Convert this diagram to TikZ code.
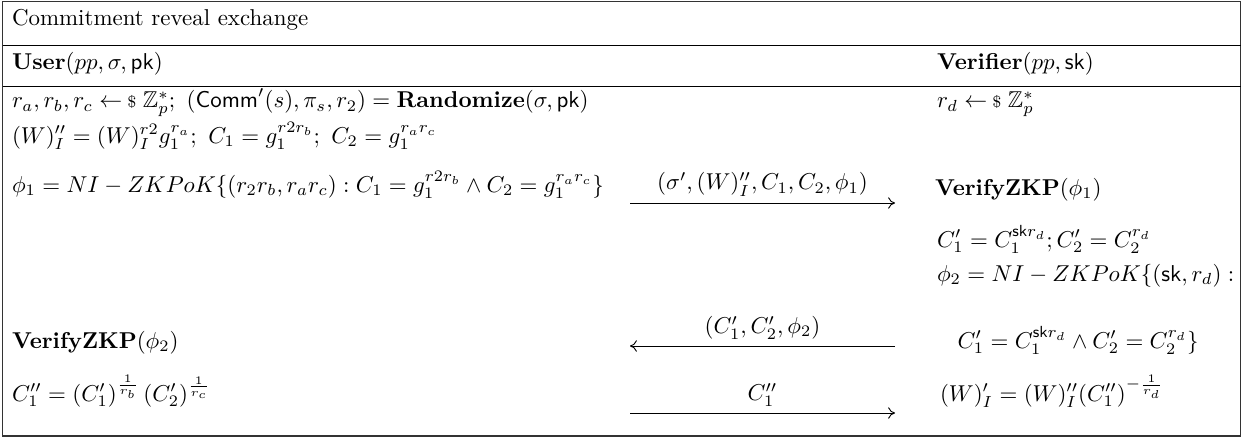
\documentclass[tikz,border=0pt]{standalone}
\usepackage{amsmath,amssymb}
\usetikzlibrary{arrows.meta, positioning}
\newcommand{\smpl}{\mathrel{\leftarrow\mkern-1mu{\scriptstyle\$}}}

\begin{document}
\begin{tikzpicture}[x=0.436pt, y=-0.436pt,
  every node/.style={inner sep=0pt, outer sep=0pt},
  cell/.style={anchor=base west},
  rule/.style={line width=0.4pt},
  frame/.style={line width=0.65pt, draw=black!80},
  msg/.style={-{To[length=3pt,width=5pt]}, line width=0.4pt},
  msglabel/.style={midway, above=3pt}]
  \useasboundingbox (0,0) rectangle (1244,439);
  \draw[frame] (2.5,1.5) rectangle (1240.5,436);

  % title and party headers
  \node[cell] (title) at (12,26) {Commitment reveal exchange};
  \draw[rule] (2.5,45) -- (1240.5,45);
  \node[cell] (user) at (12,70) {$\textbf{User}(pp,\sigma,\mathsf{pk})$};
  \node[cell] (verifier) at (937,70) {$\textbf{Verifier}(pp,\mathsf{sk})$};
  \draw[rule] (2.5,86) -- (1240.5,86);

  % user side
  \node[cell] (u1) at (12,108) {$r_a, r_b, r_c \smpl \mathbb{Z}_p^*;\ (\mathsf{Comm}'(s), \pi_s, r_2) = \textbf{Randomize}(\sigma,\mathsf{pk})$};
  \node[cell] (u2) at (12,143) {$(W)''_I = (W)_I^{r2} g_1^{r_a};\ C_1 = g_1^{r2r_b};\ C_2 = g_1^{r_ar_c}$};
  \node[cell] (u3) at (12,192) {$\phi_1 = NI - ZKPoK\{(r_2r_b, r_ar_c) : C_1 = g_1^{r2r_b} \wedge C_2 = g_1^{r_ar_c}\}$};
  \node[cell] (u4) at (12,348) {$\textbf{VerifyZKP}(\phi_2)$};
  \node[cell] (u5) at (12,401) {$C_1'' = (C_1')^{\frac{1}{r_b}}\,(C_2')^{\frac{1}{r_c}}$};

  % verifier side
  \node[cell] (v1) at (937,108) {$r_d \smpl \mathbb{Z}_p^*$};
  \node[cell] (v2) at (935,195) {$\textbf{VerifyZKP}(\phi_1)$};
  \node[cell] (v3) at (937,247) {$C_1' = C_1^{\mathsf{sk}r_d}; C_2' = C_2^{r_d}$};
  \node[cell] (v4) [below=15pt of v3.base west, anchor=base west] {$\phi_2 = NI - ZKPoK\{(\mathsf{sk}, r_d) :$};
  \node[anchor=base] (v5) at (1078,348) {$C_1' = C_1^{\mathsf{sk}r_d} \wedge C_2' = C_2^{r_d}\}$};
  \node[cell] (v6) at (940,401) {$(W)_I' = (W)_I''(C_1'')^{-\frac{1}{r_d}}$};

  % messages
  \coordinate (m1a) at (630,203);
  \coordinate (m1b) at (895,203);
  \coordinate (m2a) at (630,346);
  \coordinate (m2b) at (895,346);
  \coordinate (m3a) at (630,413);
  \coordinate (m3b) at (895,413);
  \draw[msg] (m1a) -- node[msglabel] (l1) {$(\sigma', (W)''_I, C_1, C_2, \phi_1)$} (m1b);
  \draw[msg] (m2b) -- node[msglabel] (l2) {$(C_1', C_2', \phi_2)$} (m2a);
  \draw[msg] (m3a) -- node[msglabel] (l3) {$C_1''$} (m3b);
\end{tikzpicture}
\end{document}
